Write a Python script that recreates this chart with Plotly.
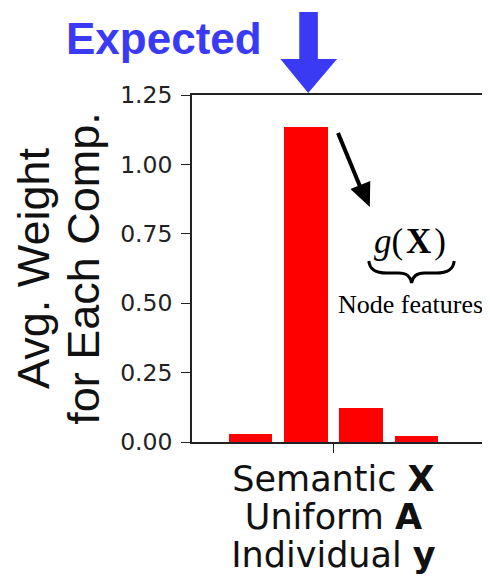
import plotly.graph_objects as go

# ---- data ----
components = [0, 1, 2, 3]
avg_weight = [0.029, 1.134, 0.122, 0.022]
group_tick = [1.5]
group_label = ["Semantic <b>X</b>", "Uniform <b>A</b>", "Individual <b>y</b>"]
y_ticks = [0.0, 0.25, 0.5, 0.75, 1.0, 1.25]
y_title_lines = ["Avg. Weight", "for Each Comp."]

# ---- layout geometry (pixels, in window coords; page body has an 8px margin) ----
OFF = 8
W, H = 490 - OFF, 580 - OFF
PL, PR, PT, PB = 192, 488, 95, 442


def px(x):
    return (x - PL) / (PR - PL)


def py(y):
    return (PB - y) / (PB - PT)


def path(points, close=True):
    s = "M " + " L ".join(f"{px(x):.5f},{py(y):.5f}" for x, y in points)
    return s + (" Z" if close else "")


BLUE = "rgb(58,58,245)"

fig = go.Figure()
fig.add_trace(go.Bar(
    x=components, y=avg_weight, width=0.79,
    marker=dict(color="#ff0000", line=dict(width=0)),
    showlegend=False, hoverinfo="skip",
))

tick_text = "<br>".join(f"<span style='font-size:35px'>{t}</span>" for t in group_label)
ytitle = "<br>".join(f"<span style='font-size:45px'>{t}</span>" for t in y_title_lines)

fig.update_layout(
    width=W, height=H,
    margin=dict(l=PL - OFF, r=W - (PR - OFF), t=PT - OFF, b=H - (PB - OFF), pad=0),
    plot_bgcolor="white", paper_bgcolor="white",
    font=dict(family="DejaVu Sans", color="#111111"),
    bargap=0,
)
fig.update_xaxes(
    range=[-1.06, 4.26], showgrid=False, zeroline=False,
    showline=True, mirror=True, linecolor="#222222", linewidth=1.6,
    ticks="outside", ticklen=9, tickwidth=1.4, tickcolor="#222222",
    tickvals=group_tick, ticktext=[tick_text], ticklabelstandoff=3,
    tickfont=dict(family="DejaVu Sans", size=29.2, color="#111111"),
)
fig.update_yaxes(
    range=[0, 1.25], showgrid=False, zeroline=False,
    showline=True, mirror=True, linecolor="#222222", linewidth=1.6,
    ticks="outside", ticklen=9, tickwidth=1.4, tickcolor="#222222",
    tickvals=y_ticks, tickformat=".2f", ticklabelstandoff=4,
    tickfont=dict(family="DejaVu Sans", size=23.5, color="#222222"),
    title=dict(text=ytitle, standoff=12,
               font=dict(family="Liberation Sans, Arial", size=38.5, color="#111111")),
)

shapes = []
# blue "Expected" arrow
shapes.append(dict(
    type="path", xref="paper", yref="paper", layer="above",
    path=path([(300, 12), (318.7, 12), (318.7, 59), (338, 59), (309, 93),
               (281, 59), (300, 59)]),
    fillcolor=BLUE, line=dict(width=0),
))
# black pointer arrow
shapes.append(dict(
    type="line", xref="paper", yref="paper", layer="above",
    x0=px(339), y0=py(133), x1=px(361), y1=py(186),
    line=dict(color="black", width=4),
))
shapes.append(dict(
    type="path", xref="paper", yref="paper", layer="above",
    path=path([(371, 207), (351.5, 189), (371.5, 181)]),
    fillcolor="black", line=dict(width=0),
))


# curly brace under g(X)
def brace_path():
    f = lambda x, y: f"{px(x):.5f},{py(y):.5f}"
    s = "M " + f(370, 261)
    s += " C " + f(371, 270) + " " + f(377, 273) + " " + f(388, 273)
    s += " L " + f(400, 273)
    s += " C " + f(409, 273) + " " + f(412, 277) + " " + f(413, 283)
    s += " C " + f(414, 277) + " " + f(417, 273) + " " + f(426, 273)
    s += " L " + f(438, 273)
    s += " C " + f(449, 273) + " " + f(455, 270) + " " + f(456, 261)
    return s


shapes.append(dict(
    type="path", xref="paper", yref="paper", layer="above",
    path=brace_path(), line=dict(color="black", width=3),
))
fig.update_layout(shapes=shapes)

fig.add_annotation(
    x=px(164), y=py(38), xref="paper", yref="paper",
    text="<b>Expected</b>", showarrow=False, xanchor="center", yanchor="middle",
    font=dict(family="Liberation Sans, Arial", size=44, color=BLUE),
)
fig.add_annotation(
    x=px(411), y=py(241), xref="paper", yref="paper",
    text="<i>g</i>(\u200a<b>X</b>\u200a)", showarrow=False, xanchor="center", yanchor="middle",
    font=dict(family="Liberation Serif, Times New Roman", size=35, color="black"),
)
fig.add_annotation(
    x=px(412), y=py(304), xref="paper", yref="paper",
    text="Node features", showarrow=False, xanchor="center", yanchor="middle",
    font=dict(family="Liberation Serif, Times New Roman", size=26, color="black"),
)

fig.write_html("out.html")
